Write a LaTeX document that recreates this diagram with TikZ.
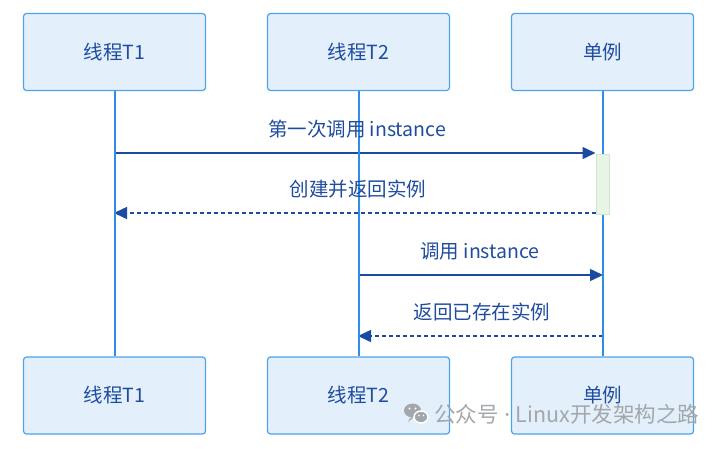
\documentclass[tikz,border=0pt]{standalone}
\usepackage{fontspec}
\setmainfont{Noto Sans CJK SC}
\newfontfamily\latinf{Noto Sans}
\usetikzlibrary{arrows.meta}
\definecolor{boxfill}{HTML}{E3F0FC}
\definecolor{boxline}{HTML}{4DA2EA}
\definecolor{lifeblue}{HTML}{2E8DE8}
\definecolor{txtblue}{HTML}{1F4C9E}
\definecolor{msgblue}{HTML}{1A4AA2}
\definecolor{actfill}{HTML}{E7F5E5}
\definecolor{actline}{HTML}{CDE8CA}
\definecolor{wmgray}{HTML}{A3A7AB}
\tikzset{
  actor/.style={draw=boxline, fill=boxfill, line width=1.2pt, rounded corners=3pt,
    minimum width=182pt, minimum height=77pt, text=txtblue, font=\fontsize{19.5}{21}\selectfont},
  lifeline/.style={draw=lifeblue, line width=2pt},
  msg/.style={draw=msgblue, line width=1.5pt, -{Triangle[length=13pt,width=12pt]}},
  reply/.style={msg, dash pattern=on 4pt off 3pt},
  lbl/.style={text=txtblue, font=\fontsize{19.5}{21}\selectfont, inner sep=0pt},
  actbox/.style={draw=actline, fill=actfill, line width=1pt, minimum width=13pt, minimum height=60pt, inner sep=0pt},
}
\begin{document}
\begin{tikzpicture}[x=1pt,y=-1pt]
\useasboundingbox (0,0) rectangle (720,448);
% actors
\node[actor] (t1top) at (114.5,52) {线程T1};
\node[actor] (t2top) at (358.5,52) {线程T2};
\node[actor] (stop)  at (602.5,52) {单例};
\node[actor] (t1bot) at (114.5,395.5) {线程T1};
\node[actor] (t2bot) at (358.5,395.5) {线程T2};
\node[actor] (sbot)  at (602.5,395.5) {单例};
% activation
\node[actbox] (act) at (602.5,184) {};
% coordinates
\coordinate (m1s) at (114,153);
\coordinate (m2e) at (114,213);
\coordinate (m3s) at (358,275);
\coordinate (m3e) at (603,275);
\coordinate (m4s) at (603,336);
\coordinate (m4e) at (358,336);
% messages
\draw[msg] (m1s) -- (m1s -| act.west);
\draw[reply] (m2e -| act.west) -- (m2e);
\draw[msg] (m3s) -- (m3e);
\draw[reply] (m4s) -- (m4e);
% lifelines
\draw[lifeline] (t1top.south) -- (t1bot.north);
\draw[lifeline] (t2top.south) -- (t2bot.north);
\draw[lifeline] (stop.south) -- (act.north);
\draw[lifeline] (act.south) -- (sbot.north);
% labels
\node[lbl] (l1) at (357,129) {第一次调用 instance};
\node[lbl] (l2) at (358,189) {创建并返回实例};
\node[lbl] (l3) at (480,251) {调用 instance};
\node[lbl] (l4) at (482,312) {返回已存在实例};
% watermark
\fill[wmgray] (412.5,410.5) ellipse [x radius=8.5pt, y radius=7pt];
\fill[wmgray] (410,418) -- (408,422) -- (414,417) -- cycle;
\draw[white, line width=1.5pt, fill=wmgray] (421,417) ellipse [x radius=7pt, y radius=6pt];
\fill[white] (409.5,408.5) circle (1.1pt) (415.5,408.5) circle (1.1pt);
\fill[white] (419,415.5) circle (0.9pt) (423.5,415.5) circle (0.9pt);
\node[anchor=west, text=wmgray, font=\fontsize{21.5}{23}\selectfont, inner sep=0pt] (wm) at (434,414) {公众号{\latinf{} · }Linux开发架构之路};
\end{tikzpicture}
\end{document}
